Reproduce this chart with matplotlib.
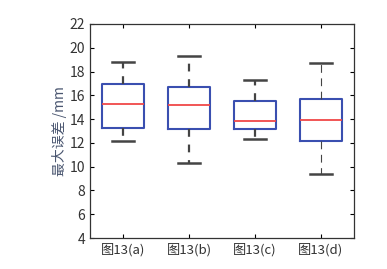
import matplotlib
matplotlib.use('Agg')
import matplotlib.pyplot as plt

plt.rcParams['font.family'] = ['Noto Sans CJK SC', 'DejaVu Sans']

labels = ['图13(a)', '图13(b)', '图13(c)', '图13(d)']
whislo = [12.2, 10.3, 12.3, 9.4]
q1 = [13.25, 13.2, 13.2, 12.2]
med = [15.3, 15.15, 13.8, 13.9]
q3 = [16.95, 16.7, 15.5, 15.7]
whishi = [18.8, 19.35, 17.3, 18.7]

stats = []
for i in range(len(labels)):
    stats.append(dict(label=labels[i], whislo=whislo[i], q1=q1[i], med=med[i],
                      q3=q3[i], whishi=whishi[i], fliers=[]))

fig = plt.figure(figsize=(3.87, 2.69), dpi=100)
ax = fig.add_axes([0.2326, 0.1152, 0.682, 0.7956])

bp = ax.bxp(stats, widths=0.64, showfliers=False,
            boxprops=dict(color='#3a4fb0', linewidth=1.5),
            medianprops=dict(color='#f04848', linewidth=1.3),
            whiskerprops=dict(color='#444444', linewidth=1.6, linestyle=(0, (3.5, 3.5))),
            capprops=dict(color='#444444', linewidth=1.8))
# the last box has thin whiskers
for w in bp['whiskers'][6:]:
    w.set_linewidth(0.8)
    w.set_linestyle((0, (7, 5)))

ax.set_xlim(0.5, 4.5)
ax.set_ylim(4, 22)
ax.set_yticks(range(4, 23, 2))
ax.tick_params(direction='in', top=True, right=True, labelsize=10,
               labelcolor='#333333', length=3)
ax.tick_params(axis='x', labelsize=9.5)
ax.set_ylabel('最大误差 /mm', fontsize=10, color='#4a5670', labelpad=2)
for s in ax.spines.values():
    s.set_color('#333333')
    s.set_linewidth(0.9)

fig.savefig('out.png', dpi=100)
